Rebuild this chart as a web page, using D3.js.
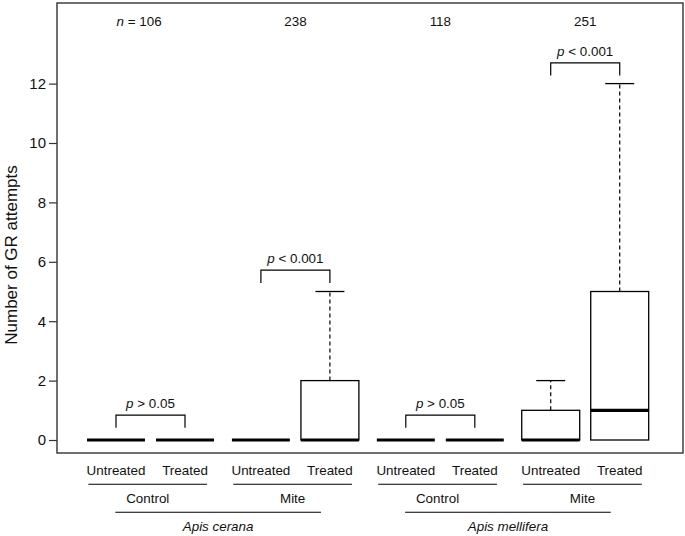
<!DOCTYPE html>
<html>
<head>
<meta charset="utf-8">
<script src="https://cdn.jsdelivr.net/npm/d3@7"></script>
<style>
	body { margin: 0; background: #fff; }
	text { font-family: "Liberation Sans", Arial, sans-serif; fill: #111; }
</style>
</head>
<body>
<script>
	// data
	var species		= ["Apis cerana", "Apis mellifera"];
	var treatments	= ["Control", "Mite"];
	var conditions	= ["Untreated", "Treated"];
	var q1			= [0, 0, 0, 0, 0, 0, 0, 0];
	var medians		= [0, 0, 0, 0, 0, 0, 0, 1];
	var q3			= [0, 0, 0, 2, 0, 0, 1, 5];
	var whiskerHigh	= [0, 0, 0, 5, 0, 0, 2, 12];
	var sampleSizes	= [106, 238, 118, 251];
	var pLabels		= ["> 0.05", "< 0.001", "> 0.05", "< 0.001"];
	var bracketTops	= [0.84, 5.72, 0.84, 12.7];
	var yTicks		= [0, 2, 4, 6, 8, 10, 12];

	var W = 685, H = 536;
	var frame = { left: 57, right: 683, top: 3, bottom: 453 };

	var svg = d3.select("body").append("svg")
		.attr("width", W)
		.attr("height", H);

	// box position in units: pairs sit a little further apart
	function pos(i) { return 1 + i + 0.1 * Math.floor(i / 2); }

	var x = d3.scaleLinear().domain([0.145, 9.217]).range([frame.left, frame.right]);
	var y = d3.scaleLinear().domain([-0.4377, 14.714]).range([frame.bottom, frame.top]);
	var unit = x(1) - x(0);
	var boxHalf = 0.42 * unit;
	var capHalf = 0.21 * unit;

	// frame
	svg.append("rect")
		.attr("x", frame.left).attr("y", frame.top)
		.attr("width", frame.right - frame.left)
		.attr("height", frame.bottom - frame.top)
		.attr("fill", "none")
		.attr("stroke", "#333")
		.attr("stroke-width", 1.4);

	// y axis, ticks only on the left
	var yAxis = d3.axisLeft(y).tickValues(yTicks).tickSize(8).tickSizeOuter(0).tickPadding(3);
	var yAxisG = svg.append("g")
		.attr("transform", "translate(" + frame.left + ",0)")
		.call(yAxis);
	yAxisG.select(".domain").remove();
	yAxisG.selectAll(".tick line").attr("stroke", "#333").attr("stroke-width", 1.2);
	yAxisG.selectAll(".tick text")
		.style("font-family", "'Liberation Sans', Arial, sans-serif")
		.style("font-size", "15px")
		.attr("fill", "#111");

	svg.append("text")
		.attr("transform", "translate(17," + 255 + ")rotate(-90)")
		.attr("text-anchor", "middle")
		.style("font-size", "17px")
		.text("Number of GR attempts");

	// boxes
	var boxes = d3.range(8).map(function(i) {
		return { i: i, q1: q1[i], med: medians[i], q3: q3[i], hi: whiskerHigh[i] };
	});

	var g = svg.append("g");

	var withWhisker = boxes.filter(function(d) { return d.hi > d.q3; });

	g.selectAll(".whisker")
		.data(withWhisker)
		.enter().append("line")
		.attr("x1", function(d) { return x(pos(d.i)); })
		.attr("x2", function(d) { return x(pos(d.i)); })
		.attr("y1", function(d) { return y(d.q3); })
		.attr("y2", function(d) { return y(d.hi); })
		.attr("stroke", "#000")
		.attr("stroke-width", 1.2)
		.attr("stroke-dasharray", "4,3");

	g.selectAll(".cap")
		.data(withWhisker)
		.enter().append("line")
		.attr("x1", function(d) { return x(pos(d.i)) - capHalf; })
		.attr("x2", function(d) { return x(pos(d.i)) + capHalf; })
		.attr("y1", function(d) { return y(d.hi); })
		.attr("y2", function(d) { return y(d.hi); })
		.attr("stroke", "#000")
		.attr("stroke-width", 1.3);

	g.selectAll(".box")
		.data(boxes.filter(function(d) { return d.q3 > d.q1; }))
		.enter().append("rect")
		.attr("x", function(d) { return x(pos(d.i)) - boxHalf; })
		.attr("y", function(d) { return y(d.q3); })
		.attr("width", 2 * boxHalf)
		.attr("height", function(d) { return y(d.q1) - y(d.q3); })
		.attr("fill", "#fff")
		.attr("stroke", "#000")
		.attr("stroke-width", 1.3);

	g.selectAll(".median")
		.data(boxes)
		.enter().append("line")
		.attr("x1", function(d) { return x(pos(d.i)) - boxHalf; })
		.attr("x2", function(d) { return x(pos(d.i)) + boxHalf; })
		.attr("y1", function(d) { return y(d.med); })
		.attr("y2", function(d) { return y(d.med); })
		.attr("stroke", "#000")
		.attr("stroke-width", 3.2);

	// significance brackets and n labels, one per pair
	var legDrop = 0.43;
	d3.range(4).forEach(function(k) {
		var xa = x(pos(2 * k)), xb = x(pos(2 * k + 1));
		var top = y(bracketTops[k]), leg = y(bracketTops[k] - legDrop);
		g.append("path")
			.attr("d", "M" + xa + "," + leg + "V" + top + "H" + xb + "V" + leg)
			.attr("fill", "none")
			.attr("stroke", "#000")
			.attr("stroke-width", 1.2);
		var pt = g.append("text")
			.attr("x", (xa + xb) / 2)
			.attr("y", top - 7)
			.attr("text-anchor", "middle")
			.style("font-size", "13.4px");
		pt.append("tspan").style("font-style", "italic").text("p");
		pt.append("tspan").text(" " + pLabels[k]);

		var mid = (xa + xb) / 2;
		g.append("text")
			.attr("x", mid)
			.attr("y", y(14) + 2)
			.attr("text-anchor", "middle")
			.style("font-size", "13.4px")
			.text(sampleSizes[k]);
		if (k === 0) {
			var nt = g.append("text")
				.attr("x", mid - 15)
				.attr("y", y(14) + 2)
				.attr("text-anchor", "end")
				.style("font-size", "13.4px");
			nt.append("tspan").style("font-style", "italic").text("n");
			nt.append("tspan").text(" =");
		}
	});

	// grouped x labels under the frame
	var labelFont = "13.4px";
	boxes.forEach(function(d) {
		svg.append("text")
			.attr("x", x(pos(d.i)))
			.attr("y", frame.bottom + 22)
			.attr("text-anchor", "middle")
			.style("font-size", labelFont)
			.text(conditions[d.i % 2]);
	});

	d3.range(4).forEach(function(k) {
		var x1 = x(pos(2 * k) - 0.4), x2 = x(pos(2 * k + 1) + 0.32);
		svg.append("line")
			.attr("x1", x1).attr("x2", x2)
			.attr("y1", frame.bottom + 31.3).attr("y2", frame.bottom + 31.3)
			.attr("stroke", "#000").attr("stroke-width", 1.1);
		svg.append("text")
			.attr("x", (x1 + x2) / 2)
			.attr("y", frame.bottom + 50)
			.attr("text-anchor", "middle")
			.style("font-size", labelFont)
			.text(treatments[k % 2]);
	});

	species.forEach(function(s, j) {
		var x1 = x(pos(4 * j) - 0.01), x2 = x(pos(4 * j + 3) - 0.13);
		svg.append("line")
			.attr("x1", x1).attr("x2", x2)
			.attr("y1", frame.bottom + 59.3).attr("y2", frame.bottom + 59.3)
			.attr("stroke", "#000").attr("stroke-width", 1.1);
		svg.append("text")
			.attr("x", (x1 + x2) / 2)
			.attr("y", frame.bottom + 78)
			.attr("text-anchor", "middle")
			.style("font-size", labelFont)
			.style("font-style", "italic")
			.text(s);
	});
</script>
</body>
</html>
